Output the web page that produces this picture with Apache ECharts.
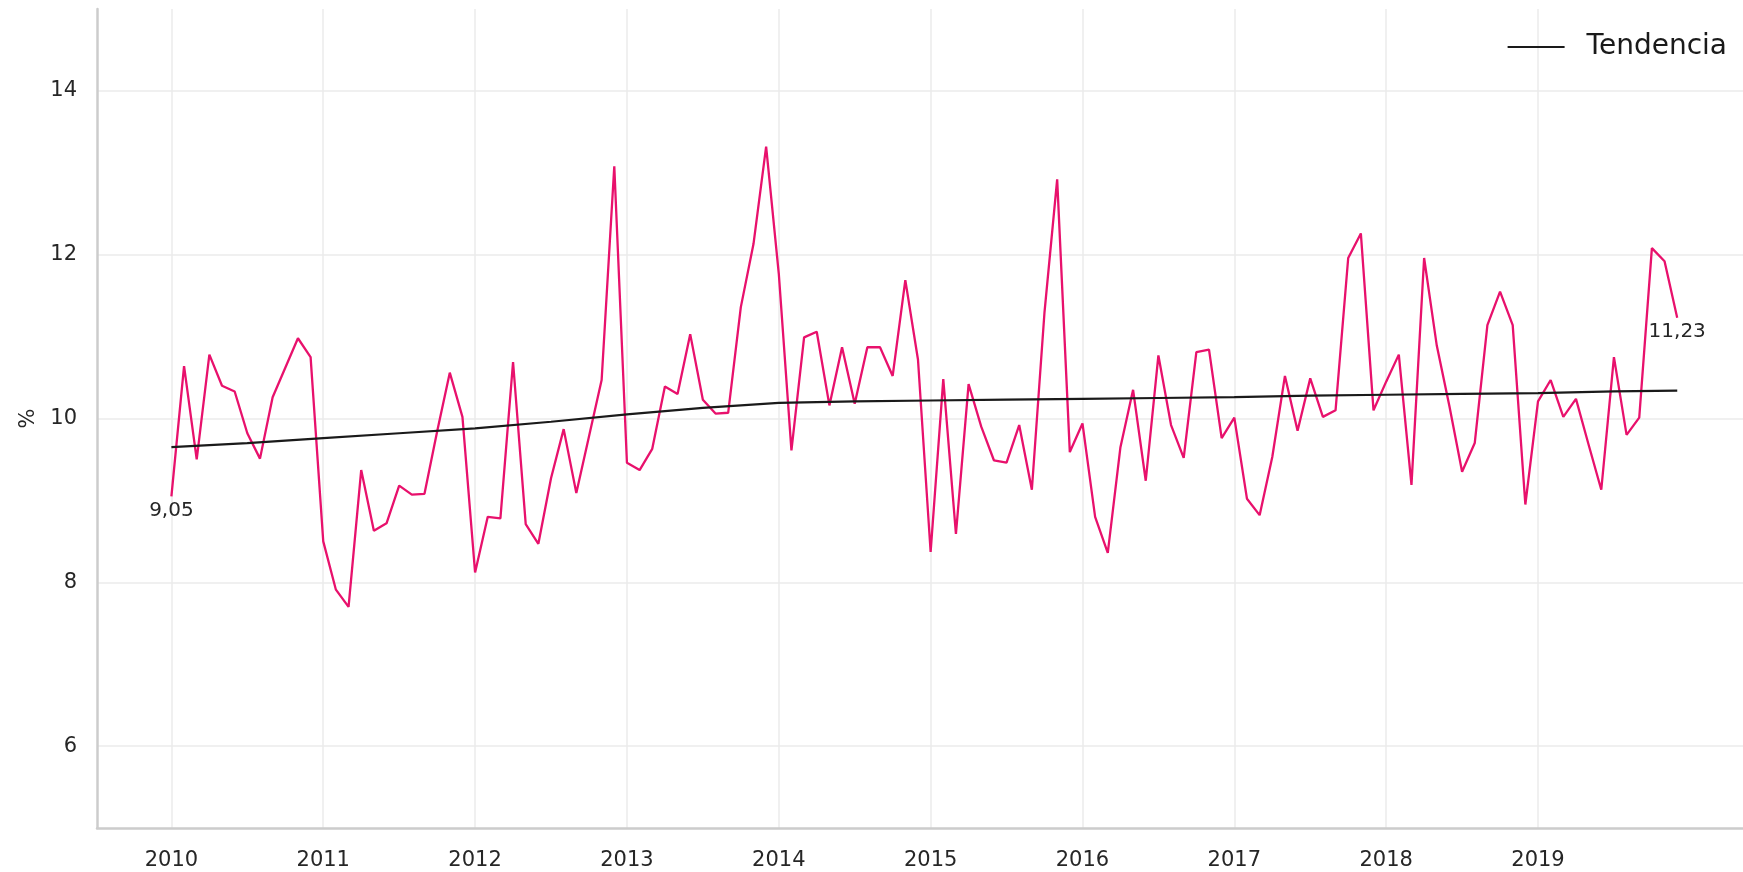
<!DOCTYPE html>
<html>
<head>
<meta charset="utf-8">
<script src="https://cdn.jsdelivr.net/npm/echarts@6/dist/echarts.min.js"></script>
<style>
  html, body { margin: 0; padding: 0; background: #fff; }
  #chart { width: 1743px; height: 872px; }
</style>
</head>
<body>
<div id="chart"></div>
<script>
// monthly series, jan 2010 .. dec 2019
const startYear = 2010
const rateValues = [
  9.05, 10.64, 9.50, 10.78, 10.40, 10.33, 9.82, 9.51, 10.26, 10.62, 10.98, 10.75,
  8.50, 7.91, 7.70, 9.37, 8.63, 8.72, 9.18, 9.07, 9.08, 9.84, 10.56, 10.02,
  8.12, 8.80, 8.78, 10.69, 8.71, 8.47, 9.27, 9.87, 9.09, 9.78, 10.47, 13.08,
  9.46, 9.37, 9.63, 10.39, 10.30, 11.03, 10.23, 10.06, 10.07, 11.36, 12.13, 13.32,
  11.77, 9.61, 10.99, 11.06, 10.16, 10.87, 10.18, 10.87, 10.87, 10.52, 11.69, 10.72,
  8.37, 10.48, 8.59, 10.42, 9.90, 9.49, 9.46, 9.92, 9.13, 11.30, 12.92, 9.59,
  9.94, 8.80, 8.36, 9.65, 10.35, 9.24, 10.77, 9.92, 9.52, 10.81, 10.84, 9.76,
  10.01, 9.02, 8.82, 9.53, 10.52, 9.85, 10.49, 10.02, 10.10, 11.96, 12.26, 10.10,
  10.45, 10.78, 9.19, 11.96, 10.89, 10.15, 9.35, 9.70, 11.14, 11.55, 11.14, 8.95,
  10.21, 10.47, 10.02, 10.24, 9.68, 9.13, 10.75, 9.80, 10.01, 12.08, 11.92, 11.23
]

// trend curve, read every half year
const trendYears = [2010, 2010.5, 2011, 2011.5, 2012, 2012.5, 2013, 2013.5, 2014, 2014.5,
  2015, 2015.5, 2016, 2016.5, 2017, 2017.5, 2018, 2018.5, 2019, 2019.5, 2019.917]
const trendValues = [9.65, 9.70, 9.76, 9.82, 9.88, 9.96, 10.05, 10.13, 10.19, 10.21,
  10.22, 10.23, 10.24, 10.25, 10.26, 10.28, 10.29, 10.30, 10.31, 10.33, 10.34]

const yearTicks = [2010, 2011, 2012, 2013, 2014, 2015, 2016, 2017, 2018, 2019]
const valueTicks = [6, 8, 10, 12, 14]

const fmt = v => v.toFixed(2).replace('.', ',')

// only the first and last point carry a label
const rateData = rateValues.map((v, i) => {
  const item = { value: [startYear + i / 12, v] }
  if (i === 0 || i === rateValues.length - 1) {
    item.label = { show: true }
  }
  return item
})
const trendData = trendYears.map((x, i) => [x, trendValues[i]])

const font = 'DejaVu Sans'
const chart = echarts.init(document.getElementById('chart'), null, { renderer: 'canvas' })

chart.setOption({
  animation: false,
  backgroundColor: '#ffffff',
  textStyle: { fontFamily: font },
  grid: { left: 97, right: 0, top: 9, bottom: 44, outerBoundsMode: 'none' },
  legend: {
    data: ['Tendencia'],
    right: 11,
    top: 28,
    icon: 'path://M0,0 L57,0 L57,2 L0,2 Z',
    itemWidth: 57,
    itemHeight: 2,
    itemStyle: { color: '#1a1a1a' },
    textStyle: { fontFamily: font, fontSize: 28, color: '#1a1a1a', padding: [0, 0, 0, 17] }
  },
  xAxis: {
    type: 'value',
    min: 2009.51,
    max: 2020.35,
    axisLine: { show: true, lineStyle: { color: '#cccccc', width: 2.5 } },
    axisTick: { show: false, customValues: yearTicks },
    axisLabel: {
      customValues: yearTicks,
      margin: 22,
      fontSize: 21,
      color: '#262626',
      fontFamily: font,
      formatter: v => String(v)
    },
    splitLine: { show: true, lineStyle: { color: '#ebebeb', width: 1.5 } }
  },
  yAxis: {
    type: 'value',
    min: 5,
    max: 15,
    name: '%',
    nameLocation: 'middle',
    nameGap: 57,
    nameTextStyle: { fontSize: 21, color: '#262626', fontFamily: font },
    axisLine: { show: true, lineStyle: { color: '#cccccc', width: 2.5 } },
    axisTick: { show: false, customValues: valueTicks },
    axisLabel: {
      customValues: valueTicks,
      margin: 20,
      fontSize: 21,
      color: '#262626',
      fontFamily: font
    },
    splitLine: { show: true, lineStyle: { color: '#ebebeb', width: 1.5 } }
  },
  series: [
    {
      name: 'Tasa',
      type: 'line',
      data: rateData,
      showSymbol: true,
      symbol: 'circle',
      symbolSize: 0,
      lineStyle: { color: '#e8116c', width: 2.3 },
      itemStyle: { color: '#e8116c' },
      label: {
        show: false,
        position: 'bottom',
        distance: 4,
        fontSize: 20,
        color: '#262626',
        fontFamily: font,
        formatter: p => fmt(p.value[1])
      },
      z: 2
    },
    {
      name: 'Tendencia',
      type: 'line',
      data: trendData,
      showSymbol: false,
      symbol: 'none',
      lineStyle: { color: '#1a1a1a', width: 2.2 },
      itemStyle: { color: '#1a1a1a' },
      z: 3
    }
  ]
})
</script>
</body>
</html>
